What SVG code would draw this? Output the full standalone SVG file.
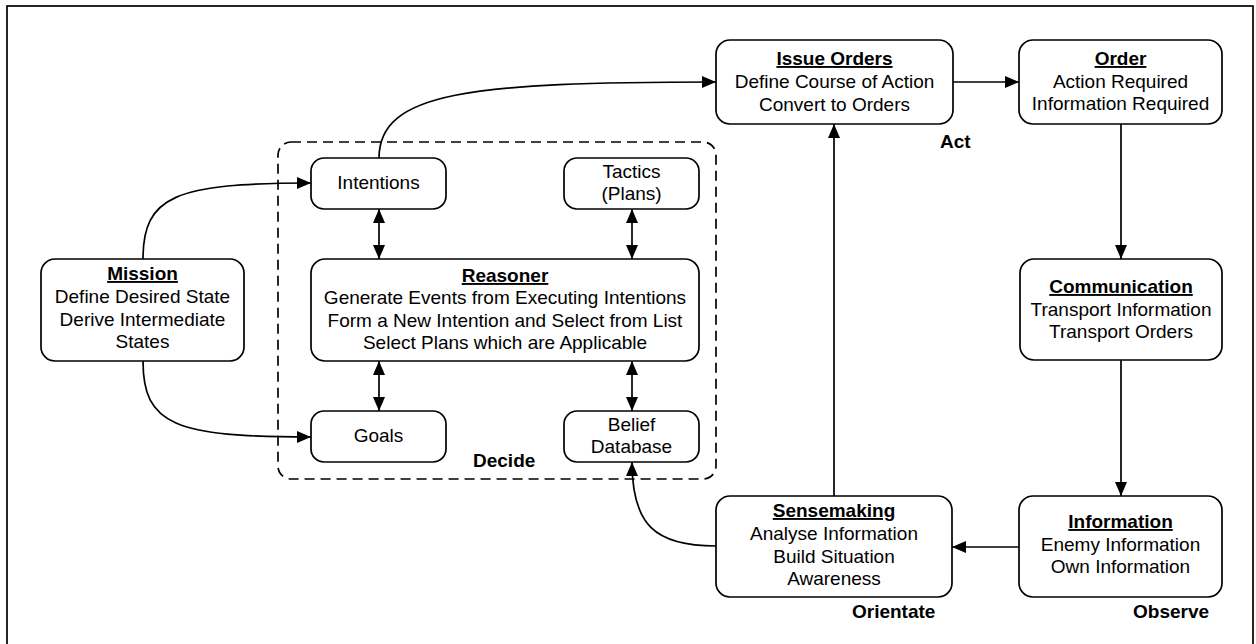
<svg xmlns="http://www.w3.org/2000/svg" width="1256" height="644" viewBox="0 0 1256 644">
<style>
  .box{fill:#fff;stroke:#000;stroke-width:1.7}
  .t{font-family:"Liberation Sans",Arial,sans-serif;font-size:19px;fill:#000;text-anchor:middle}
  .h{font-weight:bold;text-decoration:underline}
  .lbl{font-family:"Liberation Sans",Arial,sans-serif;font-size:19px;font-weight:bold;fill:#000}
  .c{fill:none;stroke:#000;stroke-width:1.7}
</style>
<defs>
  <marker id="ah" viewBox="0 0 14 12" markerUnits="userSpaceOnUse" markerWidth="14" markerHeight="12" refX="14" refY="6" orient="auto-start-reverse">
    <path d="M0,0 L14,6 L0,12 z" fill="#000"/>
  </marker>
</defs>
<rect x="7" y="6" width="1246" height="660" fill="#fff" stroke="#000" stroke-width="1.7"/>
<g id="decide-group">
  <rect x="278" y="142" width="438" height="337" rx="13" fill="none" stroke="#000" stroke-width="1.7" stroke-dasharray="10 6"/>
  <text class="lbl" x="473" y="467">Decide</text>
</g>
<g id="connectors">
  <path class="c" d="M379,158 C379,92 470,82 716,82" marker-end="url(#ah)"/>
  <path class="c" d="M953,82 L1019,82" marker-end="url(#ah)"/>
  <path class="c" d="M1121,124 L1121,259" marker-end="url(#ah)"/>
  <path class="c" d="M1121,360 L1121,496" marker-end="url(#ah)"/>
  <path class="c" d="M1019,547 L952,547" marker-end="url(#ah)"/>
  <path class="c" d="M834,496 L834,124" marker-end="url(#ah)"/>
  <path class="c" d="M716,546 C655,546 632,525 632,462" marker-end="url(#ah)"/>
  <path class="c" d="M143,259 C143,196 175,183 311,183" marker-end="url(#ah)"/>
  <path class="c" d="M143,361 C143,425 175,437 311,437" marker-end="url(#ah)"/>
  <path class="c" d="M379,209 L379,259" marker-start="url(#ah)" marker-end="url(#ah)"/>
  <path class="c" d="M632,209 L632,259" marker-start="url(#ah)" marker-end="url(#ah)"/>
  <path class="c" d="M379,361 L379,411" marker-start="url(#ah)" marker-end="url(#ah)"/>
  <path class="c" d="M632,361 L632,411" marker-start="url(#ah)" marker-end="url(#ah)"/>
</g>
<g id="issue-orders">
  <rect class="box" x="716" y="40" width="237" height="84" rx="14"/>
  <text class="t h" x="834.5" y="65">Issue Orders</text>
  <text class="t" x="834.5" y="88">Define Course of Action</text>
  <text class="t" x="834.5" y="111">Convert to Orders</text>
  <text class="lbl" x="940" y="148">Act</text>
</g>
<g id="order">
  <rect class="box" x="1019" y="40" width="203" height="84" rx="14"/>
  <text class="t h" x="1120.5" y="65">Order</text>
  <text class="t" x="1120.5" y="88">Action Required</text>
  <text class="t" x="1120.5" y="110">Information Required</text>
</g>
<g id="communication">
  <rect class="box" x="1020" y="259" width="202" height="101" rx="14"/>
  <text class="t h" x="1121" y="293">Communication</text>
  <text class="t" x="1121" y="316">Transport Information</text>
  <text class="t" x="1121" y="338">Transport Orders</text>
</g>
<g id="information">
  <rect class="box" x="1019" y="496" width="203" height="101" rx="14"/>
  <text class="t h" x="1120.5" y="528">Information</text>
  <text class="t" x="1120.5" y="551">Enemy Information</text>
  <text class="t" x="1120.5" y="573">Own Information</text>
  <text class="lbl" x="1133" y="618">Observe</text>
</g>
<g id="sensemaking">
  <rect class="box" x="716" y="496" width="236" height="101" rx="14"/>
  <text class="t h" x="834" y="517">Sensemaking</text>
  <text class="t" x="834" y="540">Analyse Information</text>
  <text class="t" x="834" y="563">Build Situation</text>
  <text class="t" x="834" y="585">Awareness</text>
  <text class="lbl" x="852" y="618">Orientate</text>
</g>
<g id="mission">
  <rect class="box" x="41" y="259" width="203" height="102" rx="14"/>
  <text class="t h" x="142.5" y="280">Mission</text>
  <text class="t" x="142.5" y="303">Define Desired State</text>
  <text class="t" x="142.5" y="326">Derive Intermediate</text>
  <text class="t" x="142.5" y="348">States</text>
</g>
<g id="intentions">
  <rect class="box" x="311" y="158" width="135" height="51" rx="13"/>
  <text class="t" x="378.5" y="189">Intentions</text>
</g>
<g id="tactics">
  <rect class="box" x="564" y="158" width="135" height="51" rx="13"/>
  <text class="t" x="631.5" y="178">Tactics</text>
  <text class="t" x="631.5" y="200">(Plans)</text>
</g>
<g id="reasoner">
  <rect class="box" x="311" y="259" width="388" height="102" rx="14"/>
  <text class="t h" x="505" y="282">Reasoner</text>
  <text class="t" x="505" y="304">Generate Events from Executing Intentions</text>
  <text class="t" x="505" y="327">Form a New Intention and Select from List</text>
  <text class="t" x="505" y="349">Select Plans which are Applicable</text>
</g>
<g id="goals">
  <rect class="box" x="311" y="411" width="135" height="51" rx="13"/>
  <text class="t" x="378.5" y="442">Goals</text>
</g>
<g id="belief-database">
  <rect class="box" x="564" y="411" width="135" height="51" rx="13"/>
  <text class="t" x="631.5" y="431">Belief</text>
  <text class="t" x="631.5" y="453">Database</text>
</g>
</svg>
